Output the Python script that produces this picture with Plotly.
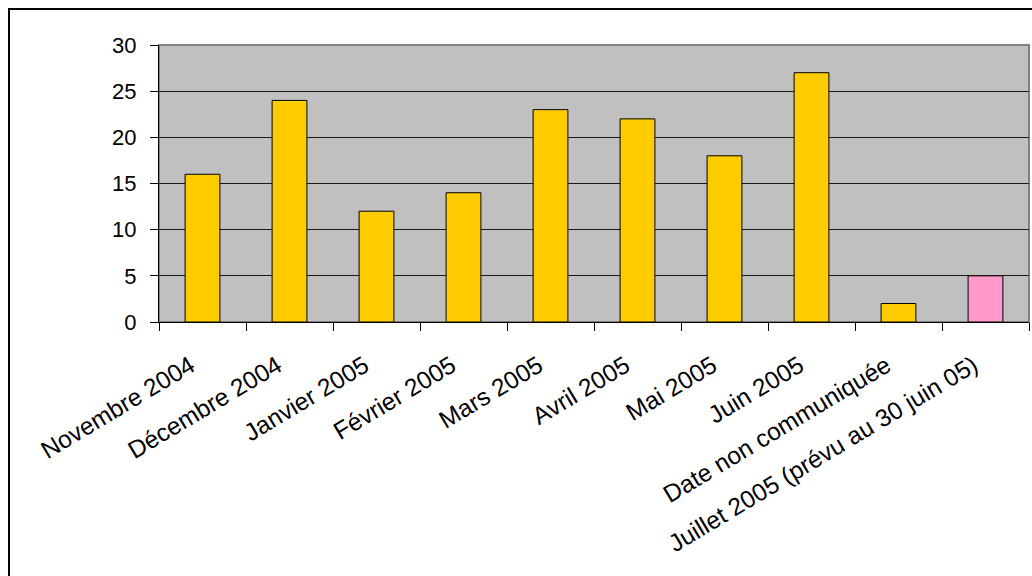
import plotly.graph_objects as go

# Monthly counts
categories = [
    "Novembre 2004", "Décembre 2004", "Janvier 2005", "Février 2005",
    "Mars 2005", "Avril 2005", "Mai 2005", "Juin 2005",
    "Date non communiquée", "Juillet 2005 (prévu au 30 juin 05)",
]
values = [16, 24, 12, 14, 23, 22, 18, 27, 2, 5]
bar_colors = ["#FFCC00"] * 9 + ["#FF99CC"]
y_ticks = [0, 5, 10, 15, 20, 25, 30]

W, H = 1032, 576
L, R, T, B = 159, 3, 45, 254
FONT = "Arial, Liberation Sans, sans-serif"

fig = go.Figure(
    go.Bar(
        x=categories,
        y=values,
        width=0.4,
        marker=dict(color=bar_colors, line=dict(color="#000000", width=1)),
        hoverinfo="x+y",
    )
)

# outer chart frame (top and left edges visible), relative to the plot area
pw, ph = W - L - R, H - T - B
fx0 = (9 - L) / pw
fx1 = (W + 20 - L) / pw
fy1 = 1 + (T - 9) / ph
fy0 = -(B + 20) / ph

fig.update_layout(
    width=W,
    height=H,
    margin=dict(l=L, r=R, t=T, b=B, pad=0),
    paper_bgcolor="white",
    plot_bgcolor="#C0C0C0",
    showlegend=False,
    font=dict(family=FONT, size=22, color="#000000"),
    xaxis=dict(
        type="category",
        tickangle=-31,
        tickson="boundaries",
        ticks="outside",
        ticklen=8,
        tickcolor="#000000",
        showline=True,
        linecolor="#000000",
        linewidth=1,
        showgrid=False,
        ticklabelstandoff=19,
        ticklabelshift=-12,
        tickfont=dict(family=FONT, size=24.5, color="#000000"),
    ),
    yaxis=dict(
        range=[0, 30],
        tickvals=y_ticks,
        ticks="outside",
        ticklen=8,
        tickcolor="#000000",
        showline=True,
        linecolor="#000000",
        linewidth=1,
        showgrid=True,
        gridcolor="#1a1a1a",
        gridwidth=1,
        zeroline=False,
        ticklabelstandoff=9,
        tickfont=dict(family=FONT, size=22, color="#000000"),
    ),
    shapes=[
        # grey border of the plot area (top and right sides show)
        dict(
            type="rect", xref="paper", yref="paper",
            x0=0, x1=1, y0=0, y1=1,
            line=dict(color="#808080", width=2),
            fillcolor="rgba(0,0,0,0)", layer="below",
        ),
        dict(
            type="rect", xref="paper", yref="paper",
            x0=fx0, x1=fx1, y0=fy0, y1=fy1,
            line=dict(color="#000000", width=2),
            fillcolor="rgba(0,0,0,0)", layer="above",
        ),
    ],
)

fig.write_html("out.html")
